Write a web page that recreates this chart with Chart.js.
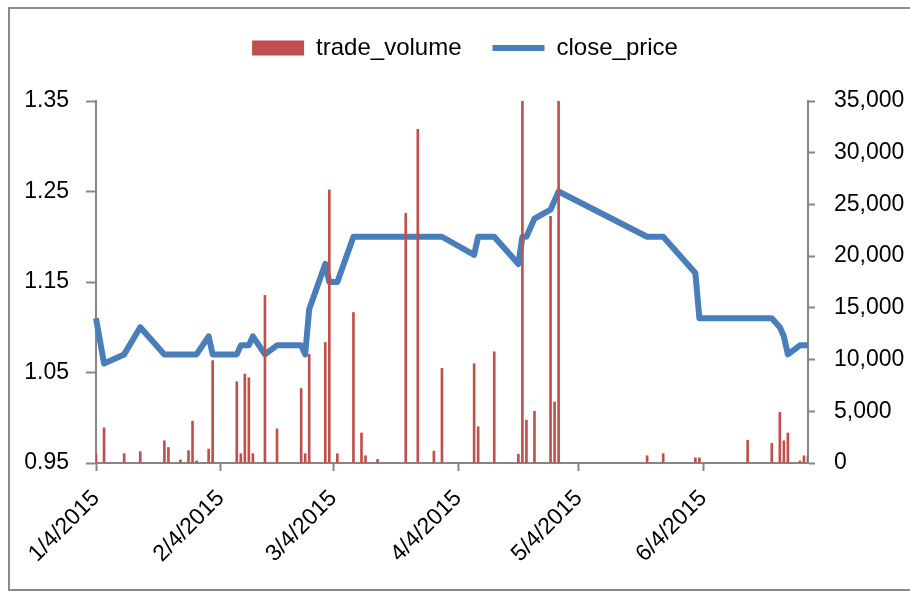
<!DOCTYPE html>
<html>
<head>
<meta charset="utf-8">
<script src="https://cdn.jsdelivr.net/npm/chart.js@4/dist/chart.umd.min.js"></script>
<style>
  html, body { margin: 0; padding: 0; background: #ffffff; }
  #wrap { width: 910px; height: 595px; }
</style>
</head>
<body>
<div id="wrap"><canvas id="canvas" width="910" height="595"></canvas></div>
<script>
// days counted from 1/4/2015
const priceDays = [0, 2, 7, 11, 17, 25, 28, 29, 35, 36, 38, 39, 42, 45, 51, 52, 53, 57, 58, 60, 64, 86, 94, 95, 99, 105, 106, 107, 109, 113, 115, 137, 141, 149, 150, 168, 170, 171, 172, 175, 177];
const closePrices = [1.11, 1.06, 1.07, 1.10, 1.07, 1.07, 1.09, 1.07, 1.07, 1.08, 1.08, 1.09, 1.07, 1.08, 1.08, 1.07, 1.12, 1.17, 1.15, 1.15, 1.20, 1.20, 1.18, 1.20, 1.20, 1.17, 1.20, 1.20, 1.22, 1.23, 1.25, 1.20, 1.20, 1.16, 1.11, 1.11, 1.10, 1.09, 1.07, 1.08, 1.08];

const volumeDays = [0, 2, 7, 11, 17, 18, 21, 23, 24, 25, 28, 29, 35, 36, 37, 38, 39, 42, 45, 51, 52, 53, 57, 58, 60, 64, 66, 67, 70, 77, 80, 84, 86, 94, 95, 99, 105, 106, 107, 109, 113, 114, 115, 137, 141, 149, 150, 162, 168, 170, 171, 172, 175, 176, 177];
const tradeVolumes = [900, 3400, 900, 1100, 2150, 1500, 300, 1200, 4050, 200, 1350, 9900, 7850, 900, 8600, 8250, 900, 16200, 3300, 7200, 900, 10500, 11650, 26400, 900, 14550, 2900, 700, 350, 24150, 32250, 1150, 9150, 9600, 3500, 10750, 850, 35000, 4150, 5000, 23850, 5900, 35000, 700, 900, 500, 500, 2200, 1900, 4900, 2150, 2900, 200, 700, 700];

const xTickDays = [0, 31, 59, 90, 120, 151];
const xTickLabels = ["1/4/2015", "2/4/2015", "3/4/2015", "4/4/2015", "5/4/2015", "6/4/2015"];
const priceTicks = [0.95, 1.05, 1.15, 1.25, 1.35];

const axisGray = "#868686";
const family = '"Liberation Sans", Arial, sans-serif';
const font = { family: family, size: 23 };

// outer frame + fixed legend height so the plot starts where the original does
const frame = {
  id: "frame",
  beforeInit(chart) {
    const fit = chart.legend.fit;
    chart.legend.fit = function () {
      fit.call(this);
      this.height = 96;
    };
  },
  afterLayout(chart) {
    // legend sits a little right of centre in the original
    chart.legend.left += 10;
    chart.legend.right += 10;
  },
  beforeDraw(chart) {
    const ctx = chart.ctx;
    ctx.save();
    ctx.fillStyle = "#ffffff";
    ctx.fillRect(0, 0, chart.width, chart.height);
    ctx.strokeStyle = "#8a8a8a";
    ctx.lineWidth = 2;
    ctx.strokeRect(9, 8, 940, 582);
    ctx.restore();
  },
};

new Chart(document.getElementById("canvas"), {
  type: "bar",
  data: {
    datasets: [
      {
        type: "bar",
        label: "trade_volume",
        data: volumeDays.map((d, i) => ({ x: d, y: tradeVolumes[i] })),
        backgroundColor: "#C0504D",
        borderWidth: 0,
        barThickness: 2,
        yAxisID: "y1",
        pointStyle: "rect",
      },
      {
        type: "line",
        label: "close_price",
        data: priceDays.map((d, i) => ({ x: d, y: closePrices[i] })),
        borderColor: "#4A7EBB",
        backgroundColor: "#4A7EBB",
        borderWidth: 6,
        borderJoinStyle: "round",
        pointRadius: 0,
        pointStyle: "line",
        tension: 0,
        clip: false,
        yAxisID: "y",
      },
    ],
  },
  options: {
    responsive: false,
    animation: false,
    layout: { padding: { top: 5, left: 0, right: 0, bottom: 0 } },
    plugins: {
      tooltip: { enabled: false },
      legend: {
        position: "top",
        labels: {
          usePointStyle: true,
          pointStyleWidth: 52,
          boxHeight: 15,
          padding: 31,
          color: "#000000",
          font: { family: family, size: 24 },
        },
      },
    },
    scales: {
      x: {
        type: "linear",
        min: 0,
        max: 177,
        offset: false,
        afterBuildTicks(scale) {
          scale.ticks = xTickDays.map((v) => ({ value: v }));
        },
        afterFit(scale) {
          scale.height = 132;
        },
        ticks: {
          autoSkip: false,
          minRotation: 45,
          maxRotation: 45,
          padding: 14,
          color: "#000000",
          font: font,
          callback: (v) => xTickLabels[xTickDays.indexOf(v)],
        },
        grid: {
          offset: false,
          drawOnChartArea: false,
          tickLength: 8,
          tickColor: axisGray,
          tickWidth: 2,
        },
        border: { color: axisGray, width: 2 },
      },
      y: {
        position: "left",
        min: 0.95,
        max: 1.35,
        afterBuildTicks(scale) {
          scale.ticks = priceTicks.map((v) => ({ value: v }));
        },
        afterFit(scale) {
          scale.width = 96;
        },
        ticks: {
          padding: 17,
          color: "#000000",
          font: font,
          callback: (v) => v.toFixed(2),
        },
        grid: {
          drawOnChartArea: false,
          tickLength: 10,
          tickColor: axisGray,
          tickWidth: 2,
        },
        border: { color: axisGray, width: 2 },
      },
      y1: {
        position: "right",
        min: 0,
        max: 35000,
        ticks: {
          stepSize: 5000,
          padding: 19,
          color: "#000000",
          font: font,
          callback: (v) => v.toLocaleString("en-US"),
        },
        afterFit(scale) {
          scale.width = 102;
        },
        grid: {
          drawOnChartArea: false,
          tickLength: 7,
          tickColor: axisGray,
          tickWidth: 2,
        },
        border: { color: axisGray, width: 2 },
      },
    },
  },
  plugins: [frame],
});
</script>
</body>
</html>
